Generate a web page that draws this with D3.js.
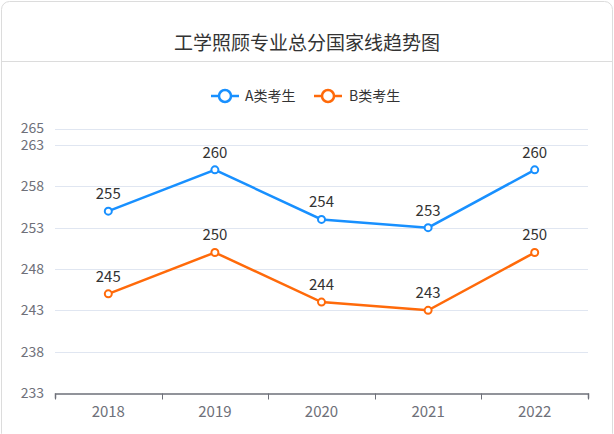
<!DOCTYPE html>
<html><head><meta charset="utf-8">
<script src="https://cdn.jsdelivr.net/npm/d3@7"></script>
<style>body{margin:0;background:#fff}svg{display:block}</style>
</head><body>
<svg id="c" width="614" height="434"></svg>
<script>
const title = "工学照顾专业总分国家线趋势图";
const years = ["2018","2019","2020","2021","2022"];
const seriesNames = ["A类考生","B类考生"];
const seriesA = [255,260,254,253,260];
const seriesB = [245,250,244,243,250];
const yTicks = [233,238,243,248,253,258,263,265];
const colors = ["#1890ff","#ff6a0a"];

const svg = d3.select("#c");
const font = "'Microsoft YaHei','Noto Sans CJK SC',sans-serif";

svg.append("rect").attr("x",1.5).attr("y",1.5).attr("width",611).attr("height",440)
  .attr("rx",8).attr("fill","#fff").attr("stroke","#dcdcdc");
svg.append("line").attr("x1",1).attr("x2",613).attr("y1",61.5).attr("y2",61.5).attr("stroke","#dcdcdc");
svg.append("text").attr("x",307).attr("y",50).attr("text-anchor","middle")
  .attr("font-family",font).attr("font-size",19).attr("fill","#333").text(title);

const x = d3.scaleBand().domain(years).range([55,588]).padding(0);
const y = d3.scaleLinear().domain([233,265]).range([393,128.5]);

const g = svg.append("g");
g.selectAll("line.grid").data(yTicks.filter(d=>d>233)).join("line")
  .attr("x1",55).attr("x2",588).attr("y1",d=>Math.round(y(d))+0.5).attr("y2",d=>Math.round(y(d))+0.5)
  .attr("stroke","#e0e6f1");

const yAxis = svg.append("g").attr("transform","translate(47,0)")
  .call(d3.axisLeft(y).tickValues(yTicks).tickSize(0).tickFormat(d3.format("d")));
yAxis.select(".domain").remove();
yAxis.selectAll("text").attr("font-family",font).attr("font-size",14).attr("fill","#6e7079").attr("dx",0);

const xAxis = svg.append("g").attr("transform","translate(0,393.5)")
  .call(d3.axisBottom(x).tickSize(5).tickSizeOuter(5));
xAxis.select(".domain").attr("stroke","#6e7079").attr("stroke-width",1.5);
xAxis.selectAll(".tick line").remove();
const bounds = years.map(d=>x(d)).concat([588]);
xAxis.selectAll("line.b").data(bounds).join("line").attr("class","b")
  .attr("x1",d=>Math.round(d)+0.5).attr("x2",d=>Math.round(d)+0.5).attr("y1",0).attr("y2",6)
  .attr("stroke","#6e7079");
xAxis.selectAll(".tick text").attr("font-family",font).attr("font-size",15).attr("fill","#6e7079").attr("dy","1.0em");

const cx = d=>x(d)+x.bandwidth()/2;
[seriesA,seriesB].forEach((vals,i)=>{
  const line = d3.line().x((d,j)=>cx(years[j])).y(d=>y(d));
  svg.append("path").datum(vals).attr("d",line).attr("fill","none")
    .attr("stroke",colors[i]).attr("stroke-width",2.5);
  svg.selectAll(null).data(vals).join("circle")
    .attr("cx",(d,j)=>cx(years[j])).attr("cy",d=>y(d)).attr("r",3.5)
    .attr("fill","#fff").attr("stroke",colors[i]).attr("stroke-width",2);
  svg.selectAll(null).data(vals).join("text")
    .attr("x",(d,j)=>cx(years[j])).attr("y",d=>y(d)-12)
    .attr("text-anchor","middle").attr("font-family",font).attr("font-size",15).attr("fill","#333")
    .text(d=>d);
});

// legend
const leg = [{x:211,tx:245},{x:314,tx:349}];
leg.forEach((l,i)=>{
  svg.append("line").attr("x1",l.x).attr("x2",l.x+28).attr("y1",96).attr("y2",96)
    .attr("stroke",colors[i]).attr("stroke-width",2.5);
  svg.append("circle").attr("cx",l.x+14).attr("cy",96).attr("r",6)
    .attr("fill","#fff").attr("stroke",colors[i]).attr("stroke-width",2.5);
  svg.append("text").attr("x",l.tx).attr("y",101).attr("font-family",font).attr("font-size",14)
    .attr("fill","#333").text(seriesNames[i]);
});
</script>
</body></html>
